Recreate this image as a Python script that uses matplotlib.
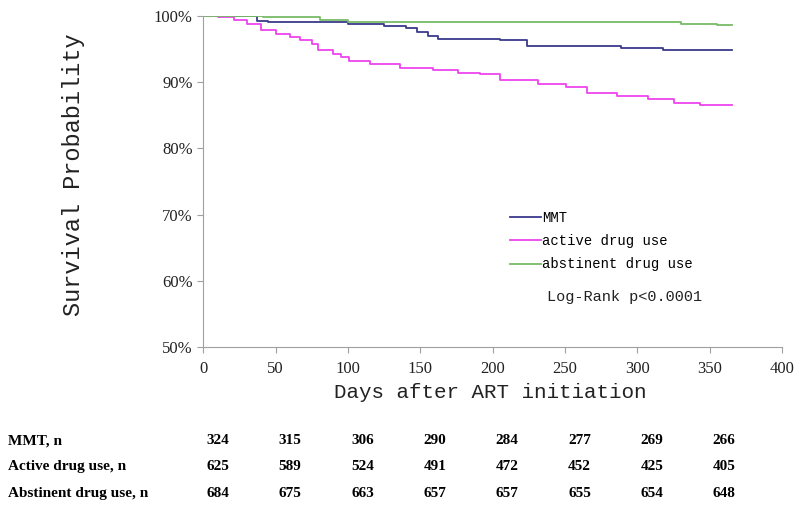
import matplotlib.pyplot as plt
from matplotlib.transforms import blended_transform_factory

# Kaplan-Meier step curves (days, survival %)
mmt_days = [0, 37, 45, 100, 125, 140, 148, 155, 162, 205, 224, 289, 318, 365]
mmt_surv = [100, 99.3, 99.0, 98.8, 98.5, 98.2, 97.5, 97.0, 96.5, 96.3, 95.5, 95.1, 94.8, 94.8]

active_days = [0, 10, 21, 30, 40, 50, 60, 67, 75, 79, 90, 95, 101, 115, 136, 159, 176, 191,
               205, 231, 251, 265, 286, 307, 325, 343, 365]
active_surv = [100, 99.8, 99.4, 98.8, 97.9, 97.2, 96.8, 96.4, 95.8, 94.9, 94.2, 93.8, 93.2, 92.7,
               92.2, 91.8, 91.4, 91.2, 90.3, 89.7, 89.2, 88.4, 87.9, 87.4, 86.9, 86.6, 86.6]

abst_days = [0, 41, 81, 100, 330, 355, 365]
abst_surv = [100, 99.85, 99.4, 99.1, 98.8, 98.6, 98.6]

# Number at risk table
risk_days = [0, 50, 100, 150, 200, 250, 300, 350]
risk_labels = ['MMT, n', 'Active drug use, n', 'Abstinent drug use, n']
risk_mmt = [324, 315, 306, 290, 284, 277, 269, 266]
risk_active = [625, 589, 524, 491, 472, 452, 425, 405]
risk_abst = [684, 675, 663, 657, 657, 655, 654, 648]

fig = plt.figure(figsize=(8, 5.12), dpi=100)
ax = fig.add_axes([0.254, 0.322, 0.7237, 0.647])

ax.step(mmt_days, mmt_surv, where='post', color='#3a3a8c', lw=1.3, label='MMT')
ax.step(active_days, active_surv, where='post', color='#ee44ee', lw=1.3, label='active drug use')
ax.step(abst_days, abst_surv, where='post', color='#77bb66', lw=1.3, label='abstinent drug use')

ax.set_xlim(0, 400)
ax.set_ylim(50, 100)
ax.set_xticks(range(0, 401, 50))
ax.set_yticks(range(50, 101, 10))
ax.set_yticklabels([f'{v}%' for v in range(50, 101, 10)])

for s in ['top', 'right']:
    ax.spines[s].set_visible(False)
for s in ['left', 'bottom']:
    ax.spines[s].set_color('#a0a0a0')
ax.tick_params(colors='#a0a0a0', length=4, labelcolor='#222222')
ax.tick_params(axis='x', pad=6)
for lab in ax.get_xticklabels() + ax.get_yticklabels():
    lab.set_fontfamily('Liberation Serif')
    lab.set_fontsize(12)

ax.set_ylabel('Survival Probability', fontfamily='Liberation Mono', fontsize=17, color='#222222')
ax.yaxis.set_label_coords(-0.204, 0.52)
ax.set_xlabel('Days after ART initiation', fontfamily='Liberation Mono', fontsize=15, color='#222222')
ax.xaxis.set_label_coords(0.495, -0.108)

leg = ax.legend(loc='upper left', bbox_to_anchor=(0.53, 0.41), frameon=False,
                prop={'family': 'Liberation Mono', 'size': 10}, handlelength=2.2,
                handletextpad=0.1, labelspacing=0.65, borderpad=0, borderaxespad=0)
ax.text(0.594, 0.151, 'Log-Rank p<0.0001', transform=ax.transAxes, fontfamily='Liberation Mono',
        fontsize=11, va='center', ha='left', color='#222222')

# at-risk table below the plot
tr = blended_transform_factory(ax.transData, fig.transFigure)
rows_y = [0.139, 0.088, 0.037]
for label, counts, y in zip(risk_labels, [risk_mmt, risk_active, risk_abst], rows_y):
    fig.text(0.01, y, label, fontfamily='Liberation Serif', fontweight='bold', fontsize=11,
             va='center', ha='left')
    for d, c in zip(risk_days, counts):
        fig.text(d + 10, y, str(c), transform=tr, fontfamily='Liberation Serif',
                 fontweight='bold', fontsize=11, va='center', ha='center')

fig.savefig('out.png', dpi=100)
